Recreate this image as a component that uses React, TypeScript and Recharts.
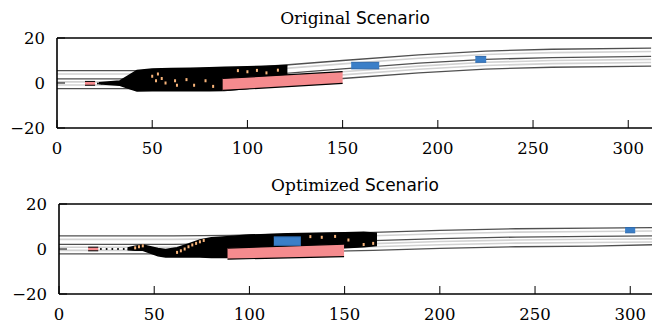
import { ComposedChart, XAxis, YAxis, Line, Area, ReferenceLine } from "recharts";

const xTicks = [0, 50, 100, 150, 200, 250, 300];
const yTicks = [-20, 0, 20];

// ---- Original Scenario: road lane lines
const roadXTop = [0, 60, 90, 120, 150, 190, 225, 260, 312];
const laneEdgeHiTop = [5.5, 5.5, 6.2, 8, 10, 12.5, 14.2, 15, 15.5];
const laneLightATop = [4, 4, 4.7, 6.5, 8.5, 11, 12.7, 13.5, 14];
const laneMidTop = [1.8, 1.8, 2.5, 4.3, 6.3, 8.8, 10.5, 11.3, 11.8];
const laneLightBTop = [0.5, 0.5, 1.2, 3, 5, 7.5, 9.2, 10, 10.5];
const laneLightCTop = [-0.9, -0.9, -0.2, 1.6, 3.6, 6.1, 7.8, 8.6, 9.1];
const laneEdgeLoTop = [-2.5, -2.5, -1.8, 0, 2, 4.5, 6.2, 7, 7.5];

// sampled trajectories (black cloud) envelope
const blobXTop = [22, 33, 38, 42, 50, 60, 70, 80, 88, 100, 110, 116, 121];
const blobLoTop = [-0.3, -1, -2.5, -3.5, -3.4, -3.4, -3.4, -3.4, -3.3, -2.5, -1.5, -0.5, 3.5];
const blobHiTop = [0.1, 0.9, 3.5, 5.6, 6.2, 6.4, 6.6, 6.8, 7, 7.2, 7.5, 7.7, 7.8];
const trailXTop = [21.5, 23.5, 25.5, 27.5, 29.5, 31.5];
const trailYTop = [-0.2, -0.2, -0.2, -0.2, -0.2, -0.2];
const orangeXTop = [50, 52, 53, 55, 57, 62, 63, 68, 72, 78, 82, 95, 100, 105, 110, 116];
const orangeYTop = [3, 1, 4, 2, 0, 1, -1, 1.5, -1, 1, -1.5, 5.5, 5, 5.6, 4.5, 5.7];

// ---- Optimized Scenario
const roadXBot = [0, 60, 90, 120, 165, 200, 240, 280, 312];
const laneEdgeHiBot = [5.8, 5.8, 6.1, 6.6, 7.4, 8.3, 9.0, 9.3, 9.5];
const laneLightABot = [4.3, 4.3, 4.6, 5.1, 5.9, 6.8, 7.5, 7.8, 8.0];
const laneMidBot = [2.1, 2.1, 2.4, 2.9, 3.7, 4.6, 5.3, 5.6, 5.8];
const laneLightBBot = [0.8, 0.8, 1.1, 1.6, 2.4, 3.3, 4.0, 4.3, 4.5];
const laneLightCBot = [-0.6, -0.6, -0.3, 0.2, 1.0, 1.9, 2.6, 2.9, 3.1];
const laneEdgeLoBot = [-2.2, -2.2, -1.9, -1.4, -0.6, 0.3, 1.0, 1.3, 1.9];

const blobXBot = [36, 40, 44, 48, 52, 56, 62, 68, 74, 80, 88, 100, 120, 150, 160, 167];
const blobLoBot = [-0.3, -0.6, -0.6, -1.8, -3, -3.5, -3.5, -3.5, -3.6, -3.8, -3.8, -3, -1.5, 0.5, 1, 1.5];
const blobHiBot = [0.5, 1.2, 1.8, 1, 0.2, -0.2, 0.6, 2.2, 4, 5, 5.4, 6.2, 6.8, 7.2, 7.4, 7];
const trailXBot = [22, 25, 28, 31, 34];
const trailYBot = [0, 0, 0, 0, 0];
const orangeXBot = [40, 42, 44, 62, 64, 66, 68, 70, 72, 74, 76, 132, 138, 145, 152, 160, 165];
const orangeYBot = [0.5, 1, 1.4, -1.5, -0.8, 0, 1, 1.8, 2.5, 3.2, 3.8, 5.5, 5.2, 5.6, 4, 2, 2.5];

// vehicles
const truckTop = { x: [87, 150], lo: [-3.3, -0.2], hi: [2, 5.05] };
const truckBot = { x: [88.5, 149.7], lo: [-4.5, -3.4], hi: [0.4, 2.2] };
const egoTop = { x: [14.7, 20], lo: [-1, -1], hi: [0.7, 0.7] };
const egoBot = { x: [15.3, 20.6], lo: [-0.8, -0.8], hi: [0.8, 0.8] };
const bluesTop = [
  { x: [154.5, 169.2], lo: [6.3, 6.3], hi: [9.2, 9.2] },
  { x: [219.7, 225.4], lo: [9.2, 9.2], hi: [11.8, 11.8] },
];
const bluesBot = [
  { x: [112.8, 127], lo: [1.6, 1.6], hi: [5.4, 5.4] },
  { x: [297.3, 302.6], lo: [7.2, 7.2], hi: [9.5, 9.5] },
];

const PINK = "#f58b8e";
const BLUE = "#3b7fc8";
const ORANGE = "#f8b47a";
const DARK = "#505050";
const LIGHT = "#d2d2d2";
const SERIF = '"DejaVu Serif", serif';
const SANS = '"DejaVu Sans", sans-serif';

const pts = (xs: number[], ys: number[]) => xs.map((x, i) => ({ x, y: ys[i] }));
const band = (xs: number[], lo: number[], hi: number[]) => xs.map((x, i) => ({ x, r: [lo[i], hi[i]] }));
const fmt = (v: number) => String(v).replace("-", "\u2212");

const XTick = (p: any) => (
  <text x={p.x} y={p.y} dy="0.71em" textAnchor="middle" fontSize={16.5} fill="#000" style={{ fontFamily: SERIF }}>
    {fmt(p.payload.value)}
  </text>
);
const YTick = (p: any) => (
  <text x={p.x} y={p.y} dy="0.355em" textAnchor="end" fontSize={16.5} fill="#000" style={{ fontFamily: SERIF }}>
    {fmt(p.payload.value)}
  </text>
);

function Panel(props: any) {
  const { top, left, lanes, blob, trail, oranges, truck, ego, blues } = props;
  const W = left + 596;
  const shape = (key: string, d: any, fill: string, stroke: string, sw: number) => (
    <Area
      key={key}
      data={band(d.x, d.lo, d.hi)}
      dataKey="r"
      type="linear"
      fill={fill}
      fillOpacity={1}
      stroke={stroke}
      strokeWidth={sw}
      dot={false}
      activeDot={false}
      isAnimationActive={false}
    />
  );
  return (
    <div style={{ position: "absolute", top, left: 0 }}>
      <ComposedChart width={W} height={158} margin={{ top: 38, right: 0, bottom: 0, left: 0 }}>
        <XAxis
          type="number"
          dataKey="x"
          domain={[0, 313]}
          allowDataOverflow
          ticks={xTicks}
          height={30}
          tickSize={-8}
          tickMargin={22}
          axisLine={{ stroke: "#000", strokeWidth: 1.6 }}
          tickLine={{ stroke: "#000" }}
          tick={XTick}
        />
        <YAxis
          type="number"
          dataKey="y"
          domain={[-20, 20]}
          allowDataOverflow
          ticks={yTicks}
          width={left}
          tickSize={-8}
          tickMargin={20}
          axisLine={{ stroke: "#000", strokeWidth: 1.6 }}
          tickLine={{ stroke: "#000" }}
          tick={YTick}
        />
        {lanes.map((l: any, i: number) => (
          <Area
            key={"lane" + i}
            data={l.data}
            dataKey="y"
            type="linear"
            fill="none"
            stroke={l.dark ? DARK : LIGHT}
            strokeWidth={l.dark ? 1.3 : 1.6}
            dot={false}
            activeDot={false}
            isAnimationActive={false}
          />
        ))}
        {shape("blob", blob, "#000", "#000", 1.5)}
        {shape("truck", truck, PINK, "#000", 1.2)}
        {shape("ego", ego, PINK, "#000", 1)}
        {blues.map((b: any, i: number) => shape("blue" + i, b, BLUE, "#2d68ab", 1))}
        <Line
          data={trail}
          dataKey="y"
          stroke="none"
          dot={{ r: 1, fill: "#000", stroke: "none" }}
          activeDot={false}
          isAnimationActive={false}
        />
        <Line
          data={oranges}
          dataKey="y"
          stroke="none"
          activeDot={false}
          isAnimationActive={false}
          dot={(p: any) => (
            <rect key={"o" + p.index} x={p.cx - 1} y={p.cy - 1.5} width={2} height={3} fill={ORANGE} />
          )}
        />
        <ReferenceLine y={20} stroke="#000" strokeWidth={1.6} />
      </ComposedChart>
    </div>
  );
}

function lanesOf(xs: number[], arrs: number[][]) {
  const darkIdx = [0, 2, 5];
  return arrs.map((a, i) => ({ data: pts(xs, a), dark: darkIdx.includes(i) }));
}

export default function App() {
  const lanesTop = lanesOf(roadXTop, [laneEdgeHiTop, laneLightATop, laneMidTop, laneLightBTop, laneLightCTop, laneEdgeLoTop]);
  const lanesBot = lanesOf(roadXBot, [laneEdgeHiBot, laneLightABot, laneMidBot, laneLightBBot, laneLightCBot, laneEdgeLoBot]);
  return (
    <div style={{ position: "absolute", left: 0, top: 0, width: 652, height: 326, overflow: "hidden", background: "#fff" }}>
      <svg width={652} height={326} style={{ position: "absolute", left: 0, top: 0 }}>
        <text x={355} y={24} textAnchor="middle" fontSize={17} fill="#000">
          <tspan style={{ fontFamily: SERIF }}>Original</tspan>
          <tspan style={{ fontFamily: SANS }}> Scenario</tspan>
        </text>
        <text x={355} y={191} textAnchor="middle" fontSize={17} fill="#000">
          <tspan style={{ fontFamily: SERIF }}>Optimized</tspan>
          <tspan style={{ fontFamily: SANS }}> Scenario</tspan>
        </text>
      </svg>
      <Panel
        top={0}
        left={57}
        lanes={lanesTop}
        blob={{ x: blobXTop, lo: blobLoTop, hi: blobHiTop }}
        trail={pts(trailXTop, trailYTop)}
        oranges={pts(orangeXTop, orangeYTop)}
        truck={truckTop}
        ego={egoTop}
        blues={bluesTop}
      />
      <Panel
        top={166}
        left={59}
        lanes={lanesBot}
        blob={{ x: blobXBot, lo: blobLoBot, hi: blobHiBot }}
        trail={pts(trailXBot, trailYBot)}
        oranges={pts(orangeXBot, orangeYBot)}
        truck={truckBot}
        ego={egoBot}
        blues={bluesBot}
      />
    </div>
  );
}
